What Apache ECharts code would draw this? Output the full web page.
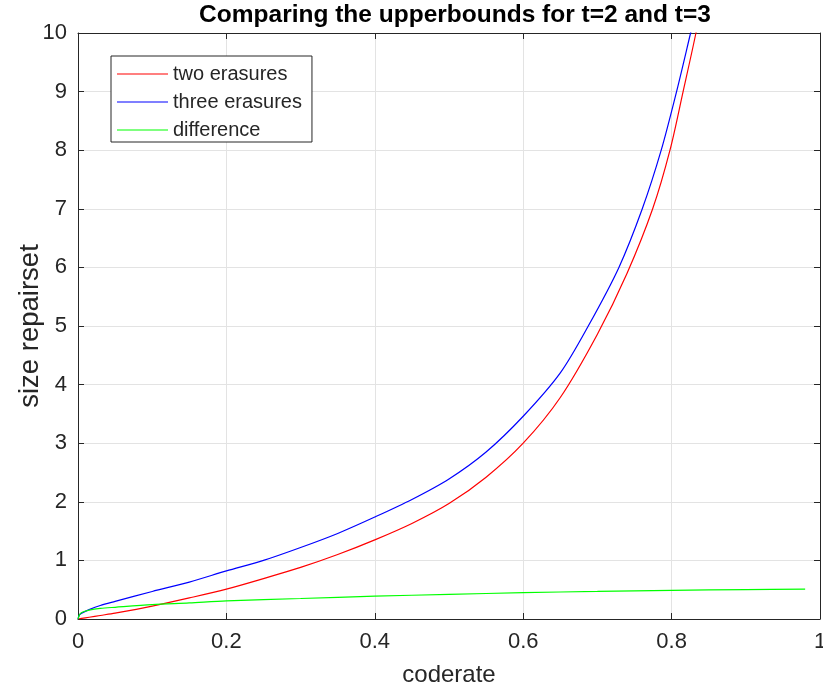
<!DOCTYPE html>
<html>
<head>
<meta charset="utf-8">
<script src="https://cdn.jsdelivr.net/npm/echarts/dist/echarts.min.js"></script>
<style>
  html, body { margin: 0; padding: 0; background: #fff; }
  #chart { width: 823px; height: 689px; }
</style>
</head>
<body>
<div id="chart"></div>
<script>
// values
const twoX = [0, 0.005, 0.015, 0.03, 0.05, 0.1, 0.15, 0.2, 0.25, 0.3, 0.35, 0.4, 0.45, 0.5, 0.55, 0.6, 0.65, 0.7, 0.74, 0.7745, 0.7978, 0.8155, 0.8328, 0.84];
const twoY = [0, 0.01, 0.03, 0.06, 0.1, 0.22, 0.36, 0.51, 0.69, 0.88, 1.1, 1.35, 1.63, 1.97, 2.42, 3.0, 3.78, 4.86, 5.9, 7, 8, 9, 10, 10.5];

const threeX = [0, 0.002, 0.005, 0.015, 0.03, 0.05, 0.1, 0.15, 0.2, 0.25, 0.3, 0.35, 0.4, 0.45, 0.5, 0.55, 0.6, 0.65, 0.6877, 0.729, 0.7605, 0.786, 0.8067, 0.8256, 0.835];
const threeY = [0, 0.07, 0.1, 0.16, 0.23, 0.3, 0.47, 0.63, 0.82, 1.0, 1.22, 1.46, 1.74, 2.04, 2.39, 2.85, 3.46, 4.2, 5, 6, 7, 8, 9, 10, 10.5];

const diffX = [0, 0.002, 0.005, 0.015, 0.03, 0.05, 0.1, 0.15, 0.2, 0.3, 0.4, 0.5, 0.6, 0.7, 0.8, 0.9, 0.98];
const diffY = [0, 0.07, 0.11, 0.15, 0.18, 0.2, 0.245, 0.275, 0.31, 0.35, 0.39, 0.42, 0.45, 0.47, 0.49, 0.5, 0.51];

const xTicks = [0, 0.2, 0.4, 0.6, 0.8, 1];

const pairs = (xs, ys) => xs.map((x, i) => [x, ys[i]]);

const font = 'Liberation Sans, Arial, sans-serif';
const ink = '#262626';
const gridGray = '#e3e3e3';

const chart = echarts.init(document.getElementById('chart'), null, { renderer: 'canvas' });

const lineSeries = (name, color, data) => ({
	name: name,
	type: 'line',
	data: data,
	symbol: 'none',
	smooth: 0.3,
	clip: true,
	lineStyle: { color: color, width: 1.2 },
	itemStyle: { color: color },
	emphasis: { disabled: true },
});

const boxAxis = (position, max, interval) => ({
	type: 'value',
	position: position,
	min: 0,
	max: max,
	interval: interval,
	axisLine: { show: true, onZero: false, lineStyle: { color: ink, width: 1 } },
	axisTick: { show: true, inside: true, length: 6, lineStyle: { color: ink } },
	axisLabel: { show: false },
	splitLine: { show: false },
});

const option = {
	animation: false,
	backgroundColor: '#fff',
	title: {
		text: 'Comparing the upperbounds for t=2 and t=3',
		left: 450,
		textAlign: 'center',
		top: -2,
		textStyle: { fontFamily: font, fontSize: 24.5, fontWeight: 'bold', color: '#000' },
	},
	legend: {
		orient: 'vertical',
		left: 111,
		top: 56,
		padding: [8, 10, 2, 6],
		icon: 'rect',
		itemWidth: 51,
		itemHeight: 1.2,
		itemGap: 8,
		borderColor: ink,
		borderWidth: 1,
		backgroundColor: '#fff',
		textStyle: { fontFamily: font, fontSize: 20, color: ink },
		data: ['two erasures', 'three erasures', 'difference'],
	},
	grid: { left: 78, right: 3, top: 33, bottom: 70, containLabel: false, outerBoundsMode: 'none' },
	xAxis: [
		{
			type: 'value',
			min: 0,
			max: 1,
			interval: 0.2,
			name: 'coderate',
			nameLocation: 'middle',
			nameGap: 44,
			nameTextStyle: { fontFamily: font, fontSize: 24, color: ink },
			axisLine: { lineStyle: { color: ink, width: 1 } },
			axisTick: { inside: true, length: 6, lineStyle: { color: ink } },
			axisLabel: {
				fontFamily: font,
				fontSize: 22,
				color: ink,
				margin: 12,
				formatter: (v) => (xTicks.includes(+v.toFixed(1)) ? String(+v.toFixed(1)) : ''),
			},
			splitLine: { show: true, lineStyle: { color: gridGray, width: 1 } },
		},
		boxAxis('top', 1, 0.2),
	],
	yAxis: [
		{
			type: 'value',
			min: 0,
			max: 10,
			interval: 1,
			name: 'size repairset',
			nameLocation: 'middle',
			nameGap: 37,
			nameMoveOverlap: false,
			nameTextStyle: { fontFamily: font, fontSize: 27.5, color: ink, padding: [0, 0, -3, 0] },
			axisLine: { show: true, lineStyle: { color: ink, width: 1 } },
			axisTick: { show: true, inside: true, length: 6, lineStyle: { color: ink } },
			axisLabel: { fontFamily: font, fontSize: 22, color: ink, margin: 11 },
			splitLine: { show: true, lineStyle: { color: gridGray, width: 1 } },
		},
		boxAxis('right', 10, 1),
	],
	series: [
		lineSeries('two erasures', '#ff0000', pairs(twoX, twoY)),
		lineSeries('three erasures', '#0000ff', pairs(threeX, threeY)),
		lineSeries('difference', '#00ff00', pairs(diffX, diffY)),
	],
};

chart.setOption(option);
</script>
</body>
</html>
